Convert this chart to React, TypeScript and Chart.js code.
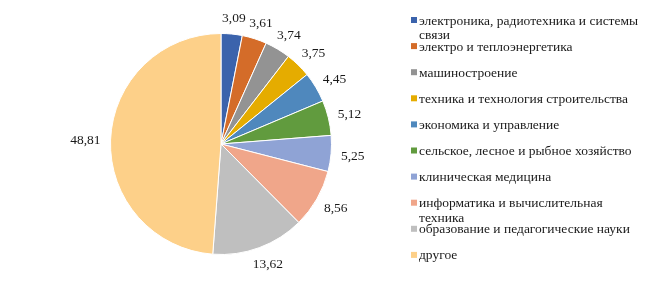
import { useEffect, useRef } from "react";
import { Chart, registerables } from "chart.js";

Chart.register(...registerables);

const categories = [
  "электроника, радиотехника и системы связи",
  "электро и теплоэнергетика",
  "машиностроение",
  "техника и технология строительства",
  "экономика и управление",
  "сельское, лесное и рыбное хозяйство",
  "клиническая медицина",
  "информатика и вычислительная техника",
  "образование и педагогические науки",
  "другое",
];

const values = [3.09, 3.61, 3.74, 3.75, 4.45, 5.12, 5.25, 8.56, 13.62, 48.81];

const valueLabels = ["3,09", "3,61", "3,74", "3,75", "4,45", "5,12", "5,25", "8,56", "13,62", "48,81"];

const colors = [
  "#3B63AC",
  "#D46C29",
  "#939393",
  "#E5AC00",
  "#4F88BD",
  "#619B3E",
  "#8FA3D5",
  "#F0A68A",
  "#BFBFBF",
  "#FDD089",
];

const FONT = '"Liberation Serif", "Times New Roman", serif';
const FONT_SIZE = 13.5;
const TEXT_COLOR = "#1a1a1a";

const outLabelsPlugin = {
  id: "outLabels",
  afterDatasetsDraw(chart: any) {
    const ctx = chart.ctx as CanvasRenderingContext2D;
    const meta = chart.getDatasetMeta(0);
    ctx.save();
    ctx.font = `${FONT_SIZE}px ${FONT}`;
    ctx.fillStyle = TEXT_COLOR;
    ctx.textAlign = "center";
    ctx.textBaseline = "middle";
    meta.data.forEach((arc: any, i: number) => {
      const p = arc.getProps(["x", "y", "startAngle", "endAngle", "outerRadius"], true);
      const mid = (p.startAngle + p.endAngle) / 2;
      const c = Math.cos(mid);
      const s = Math.sin(mid);
      const a = p.outerRadius + 10;
      const text = valueLabels[i];
      const w = ctx.measureText(text).width;
      const h = 14;
      ctx.fillText(text, p.x + c * a + (c * w) / 2, p.y + s * a + (s * h) / 2 + 1);
    });
    ctx.restore();
  },
};

function wrap(ctx: CanvasRenderingContext2D, text: string, maxW: number): string[] {
  const words = text.split(" ");
  const lines: string[] = [];
  let cur = "";
  for (const w of words) {
    const t = cur ? cur + " " + w : w;
    if (ctx.measureText(t).width > maxW && cur) {
      lines.push(cur);
      cur = w;
    } else {
      cur = t;
    }
  }
  if (cur) lines.push(cur);
  return lines;
}

const legendPlugin = {
  id: "sideLegend",
  afterDraw(chart: any) {
    const ctx = chart.ctx as CanvasRenderingContext2D;
    ctx.save();
    ctx.font = `${FONT_SIZE}px ${FONT}`;
    ctx.textAlign = "left";
    ctx.textBaseline = "middle";
    const boxX = 411;
    const textX = 419;
    const top = 20;
    const step = 26.1;
    const lineH = 14.5;
    categories.forEach((cat, i) => {
      const y = top + i * step;
      ctx.fillStyle = colors[i];
      ctx.fillRect(boxX, y - 3, 6, 6);
      ctx.fillStyle = TEXT_COLOR;
      const lines = wrap(ctx, cat, 226);
      lines.forEach((ln, j) => ctx.fillText(ln, textX, y + j * lineH + 1));
    });
    ctx.restore();
  },
};

export default function App() {
  const ref = useRef<HTMLCanvasElement | null>(null);
  useEffect(() => {
    document.body.style.margin = "0";
    if (!ref.current) return;
    const chart = new Chart(ref.current, {
      type: "pie",
      data: {
        labels: categories,
        datasets: [
          {
            data: values,
            backgroundColor: colors,
            borderColor: "#ffffff",
            borderWidth: 1,
          },
        ],
      },
      options: {
        responsive: false,
        animation: false,
        layout: { padding: { top: 33, bottom: 33, left: 110, right: 320 } },
        plugins: {
          legend: { display: false },
          tooltip: { enabled: false },
        },
      },
      plugins: [outLabelsPlugin, legendPlugin],
    });
    return () => chart.destroy();
  }, []);
  return (
    <div style={{ width: 652, height: 288, background: "#fff" }}>
      <canvas ref={ref} width={652} height={288} style={{ display: "block" }} />
    </div>
  );
}
